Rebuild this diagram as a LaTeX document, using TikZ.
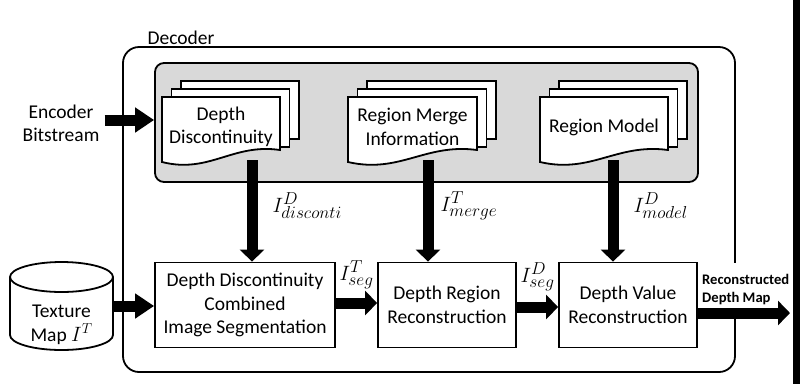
\documentclass[tikz,border=0pt]{standalone}
\usepackage{fontspec}
\setmainfont{Carlito}
\usetikzlibrary{arrows.meta}
\DeclareMathSizes{21}{20.74}{17.28}{12}

\newcommand{\docstack}[5]{%
  \foreach \k in {2,1}
    \draw[docline, fill=white] ({#2+9.5*\k},{#3-8*\k}) rectangle ++(#4,58);
  \draw[docline, fill=white] (#2,#3) -- ({#2+#4},#3) -- ({#2+#4},{#3+53})
    .. controls ({#2+0.6*#4},{#3+46}) and ({#2+0.4*#4},{#3+77}) .. (#2,{#3+65}) -- cycle;
  \node[box text] (#1) at ({#2+#4/2},{#3+30}) {#5};
}

\begin{document}
\begin{tikzpicture}[x=1pt,y=-1pt,
  box text/.style={font=\fontsize{19.5}{23.5}\selectfont, align=center, inner sep=0pt},
  math label/.style={font=\fontsize{21}{25}\selectfont, inner sep=0pt},
  docline/.style={draw, line width=1.8pt},
  frame/.style={draw, line width=1.8pt, rounded corners=16pt},
  panel/.style={draw, line width=1.8pt, fill=gray!30, rounded corners=9pt},
  stage/.style={box text, draw, line width=1.8pt, fill=white, minimum height=85pt},
  flow/.style={line width=11pt, -{Triangle[length=12pt,width=24pt]}},
  feed/.style={line width=11pt, -{Triangle[length=19pt,width=24pt]}}]
\useasboundingbox (0,0) rectangle (800,384);
\fill (793,0) rectangle (800,384);

\node[frame, minimum width=612pt, minimum height=325pt] (decoder) at (429,209.5) {};
\node[box text] (declbl) at (181,38) {Decoder};
\node[panel, minimum width=543pt, minimum height=119pt] (bitpanel) at (426.5,122.5) {};

\node[stage, minimum width=180pt] (segbox) at (245,305) {Depth Discontinuity\\Combined\\Image Segmentation};
\node[stage, minimum width=138pt] (regbox) at (447,305) {Depth Region\\Reconstruction};
\node[stage, minimum width=138pt] (valbox) at (628,305) {Depth Value\\Reconstruction};

\docstack{disc}{162}{97}{118}{Depth\\Discontinuity}
\docstack{merge}{348}{97}{129}{Region Merge\\Information}
\docstack{model}{540}{97}{128}{Region Model}

\coordinate (discout) at (252,160);
\coordinate (mergeout) at (428,160);
\coordinate (modelout) at (613,160);
\draw[flow] (discout) -- node[pos=0.45, right=15pt, math label] {$I^D_{disconti}$} (discout |- segbox.north);
\draw[flow] (mergeout) -- node[pos=0.45, right=7pt, math label] {$I^T_{merge}$} (mergeout |- regbox.north);
\draw[flow] (modelout) -- node[pos=0.45, right=15pt, math label] {$I^D_{model}$} (modelout |- valbox.north);

\node[box text] (bitstream) at (61,123.5) {Encoder\\Bitstream};
\draw[feed, shorten <=5pt] ([yshift=3.5pt]bitstream.east) -- ([yshift=3.5pt]bitstream.east -| bitpanel.west);

\node[minimum width=103pt, minimum height=88pt, inner sep=0pt] (texmap) at (61.5,306) {};
\draw[docline] (10,277) -- (10,335) arc[start angle=180, end angle=0, x radius=51.5, y radius=15] -- (113,277);
\draw[docline] (61.5,277) ellipse[x radius=51.5, y radius=15];
\node[box text] (texlbl) at (61.5,325) {Texture\\Map $I^T$};
\draw[feed] (texmap.east) -- (texmap.east -| segbox.west);

\draw[flow] ([yshift=2pt]segbox.east) -- node[above=9pt, math label] {$I^T_{seg}$} ([yshift=2pt]regbox.west);
\draw[flow] ([yshift=-2pt]regbox.east) -- node[above=11pt, math label] {$I^D_{seg}$} ([yshift=-2pt]valbox.west);

\node[font=\fontsize{14.6}{18}\selectfont\bfseries, align=left, anchor=west, fill=white,
  inner xsep=1pt, inner ysep=12pt] (outlbl) at (701,290) {Reconstructed\\Depth Map};
\coordinate (mapout) at (790,313);
\draw[flow] ([yshift=-8pt]valbox.east) -- (mapout);
\end{tikzpicture}
\end{document}
